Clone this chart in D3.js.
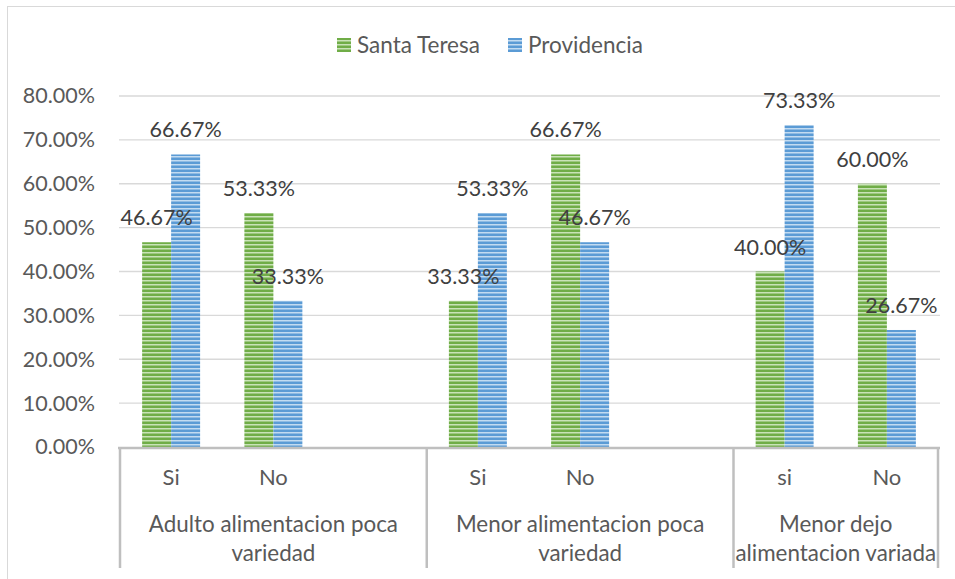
<!DOCTYPE html>
<html>
<head>
<meta charset="utf-8">
<script src="https://cdn.jsdelivr.net/npm/d3@7"></script>
<style>
  body { margin: 0; background: #fff; }
  text { font-family: Lato, "Open Sans", sans-serif; }
</style>
</head>
<body>
<svg id="chart" width="955" height="579"></svg>
<script>
const seriesNames = ["Santa Teresa", "Providencia"];
const slotLabels = ["Si", "No", "", "Si", "No", "", "si", "No"];
const slotGroup = [0, 0, 0, 1, 1, 1, 2, 2];
const groupLines = [
  ["Adulto alimentacion poca", "variedad"],
  ["Menor alimentacion poca", "variedad"],
  ["Menor dejo", "alimentacion variada"]
];
const santaTeresa = [46.67, 53.33, null, 33.33, 66.67, null, 40.00, 60.00];
const providencia = [66.67, 33.33, null, 53.33, 46.67, null, 73.33, 26.67];
const yTicks = [0, 10, 20, 30, 40, 50, 60, 70, 80];

const colors = ["#70AD47", "#5B9BD5"];
const lights = ["#c9e3b8", "#c2dbf1"];

const svg = d3.select("#chart");
const plotLeft = 120, plotRight = 938, plotTop = 96, plotBottom = 447;

// striped fills
const defs = svg.append("defs");
seriesNames.forEach(function(s, i) {
  const p = defs.append("pattern")
    .attr("id", "pat" + i)
    .attr("patternUnits", "userSpaceOnUse")
    .attr("width", 8).attr("height", 4);
  p.append("rect").attr("width", 8).attr("height", 4).attr("fill", colors[i]);
  p.append("rect").attr("y", 0).attr("width", 8).attr("height", 1.5).attr("fill", lights[i]);
});

// chart border
svg.append("rect")
  .attr("x", 7.5).attr("y", 6.5).attr("width", 960).attr("height", 600)
  .attr("fill", "none").attr("stroke", "#d9d9d9");

const x = d3.scaleBand().domain(d3.range(slotLabels.length)).range([plotLeft, plotRight])
  .paddingInner(0.433).paddingOuter(0.2165);
const xs = d3.scaleBand().domain([0, 1]).range([0, x.bandwidth()]);
const y = d3.scaleLinear().domain([0, 80]).range([plotBottom, plotTop]);

// gridlines
svg.append("g").selectAll("line")
  .data(yTicks.slice(1))
  .join("line")
  .attr("x1", plotLeft - 1).attr("x2", plotRight + 2)
  .attr("y1", d => y(d)).attr("y2", d => y(d))
  .attr("stroke", "#d9d9d9").attr("stroke-width", 1.3);

// y axis labels
const yAxis = svg.append("g")
  .attr("transform", "translate(" + (plotLeft - 6) + ",0)")
  .call(d3.axisLeft(y).tickValues(yTicks).tickSize(0).tickPadding(19)
    .tickFormat(d => d3.format(".2f")(d) + "%"));
yAxis.select(".domain").remove();
yAxis.selectAll("text").attr("fill", "#595959").style("font-size", "21.5px")
  .style("font-family", "Lato, sans-serif");

// bars
const series = [santaTeresa, providencia];
const barData = [];
series.forEach(function(vals, si) {
  vals.forEach(function(v, i) {
    if (v !== null) barData.push({ s: si, i: i, v: v });
  });
});

svg.append("g").selectAll("rect")
  .data(barData)
  .join("rect")
  .attr("x", d => x(d.i) + xs(d.s))
  .attr("width", xs.bandwidth())
  .attr("y", d => y(d.v))
  .attr("height", d => y(0) - y(d.v))
  .attr("fill", d => "url(#pat" + d.s + ")");

// data labels on top of every bar
svg.append("g").selectAll("text")
  .data(barData)
  .join("text")
  .attr("x", d => x(d.i) + xs(d.s) + xs.bandwidth() / 2)
  .attr("y", d => y(d.v) - 17)
  .attr("text-anchor", "middle")
  .attr("fill", "#404040")
  .style("font-size", "21.5px")
  .text(d => d3.format(".2f")(d.v) + "%");

// category axis
const groupEdges = [plotLeft];
for (let gi = 0; gi < groupLines.length; gi++) {
  const idx = slotGroup.map((g, i) => g === gi ? i : -1).filter(i => i >= 0);
  groupEdges.push(x(idx[idx.length - 1]) + x.bandwidth() + (x.step() - x.bandwidth()) / 2);
}
svg.append("line")
  .attr("x1", plotLeft - 2).attr("x2", plotRight + 2).attr("y1", plotBottom + 1).attr("y2", plotBottom + 1)
  .attr("stroke", "#bfbfbf").attr("stroke-width", 2.5);
svg.append("g").selectAll("line")
  .data(groupEdges)
  .join("line")
  .attr("x1", d => d).attr("x2", d => d)
  .attr("y1", plotBottom).attr("y2", 568)
  .attr("stroke", "#bfbfbf").attr("stroke-width", 2.5);

svg.append("g").selectAll("text")
  .data(slotLabels)
  .join("text")
  .attr("x", (d, i) => x(i) + x.bandwidth() / 2)
  .attr("y", 485)
  .attr("text-anchor", "middle")
  .attr("fill", "#595959")
  .style("font-size", "22px")
  .text(d => d);

groupLines.forEach(function(lines, gi) {
  const cx = (groupEdges[gi] + groupEdges[gi + 1]) / 2;
  lines.forEach(function(line, li) {
    svg.append("text")
      .attr("x", cx).attr("y", 532 + li * 29)
      .attr("text-anchor", "middle")
      .attr("fill", "#595959")
      .style("font-size", "22.4px")
      .text(line);
  });
});

// legend
const legX = [337, 508];
seriesNames.forEach(function(s, i) {
  svg.append("rect")
    .attr("x", legX[i]).attr("y", 38).attr("width", 14).attr("height", 14)
    .attr("fill", "url(#pat" + i + ")");
  svg.append("text")
    .attr("x", legX[i] + 20).attr("y", 53)
    .attr("fill", "#595959")
    .style("font-size", "22.5px")
    .text(s);
});
</script>
</body>
</html>
